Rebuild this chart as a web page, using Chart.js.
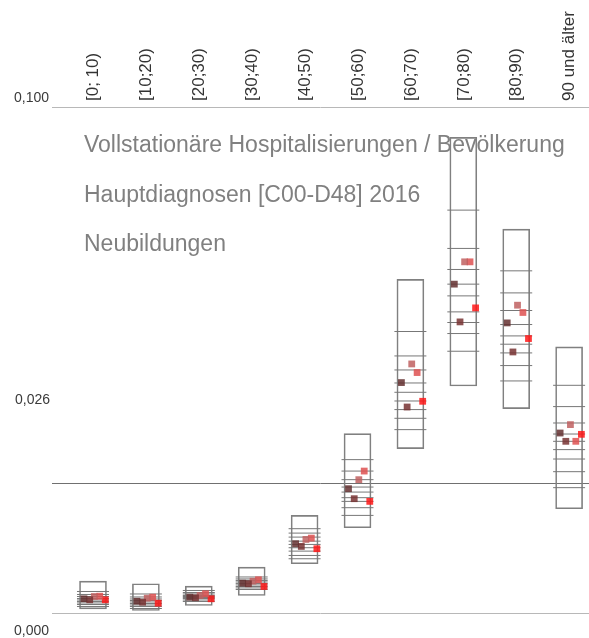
<!DOCTYPE html>
<html>
<head>
<meta charset="utf-8">
<script src="https://cdn.jsdelivr.net/npm/chart.js@4.4.1/dist/chart.umd.min.js"></script>
<style>
  body { margin: 0; background: #fff; }
  canvas { display: block; }
</style>
</head>
<body>
<canvas id="hospChart" width="589" height="638"></canvas>
<script>
// Altersgruppen
const categories = ['[0; 10)', '[10;20)', '[20;30)', '[30;40)', '[40;50)', '[50;60)', '[60;70)', '[70;80)', '[80;90)', '90 und älter'];

// Spannweite (Kasten) je Altersgruppe
const boxMin = [0.00083, 0.00049, 0.00148, 0.00346, 0.00973, 0.01685, 0.03248, 0.04487, 0.04040, 0.02061];
const boxMax = [0.00629, 0.00578, 0.00530, 0.00906, 0.01929, 0.03545, 0.06592, 0.09401, 0.07587, 0.05258];

// Querstriche je Altersgruppe (von oben nach unten)
const deciles = [
  [0.00425, 0.00366, 0.00326, 0.00287, 0.00257, 0.00228, 0.00198, 0.00168, 0.00129],
  [0.00376, 0.00317, 0.00277, 0.00247, 0.00218, 0.00188, 0.00158, 0.00129, 0.00089],
  [0.00445, 0.00405, 0.00376, 0.00346, 0.00326, 0.00307, 0.00287, 0.00257, 0.00228],
  [0.00712, 0.00673, 0.00643, 0.00613, 0.00584, 0.00554, 0.00524, 0.00495, 0.00465],
  [0.01666, 0.01579, 0.01500, 0.01420, 0.01355, 0.01290, 0.01223, 0.01137, 0.01072],
  [0.03031, 0.02805, 0.02635, 0.02489, 0.02390, 0.02279, 0.02206, 0.02081, 0.01929],
  [0.05563, 0.05080, 0.04803, 0.04546, 0.04362, 0.04190, 0.04020, 0.03848, 0.03624],
  [0.07962, 0.07205, 0.06789, 0.06499, 0.06267, 0.05951, 0.05741, 0.05523, 0.05173],
  [0.06762, 0.06326, 0.05978, 0.05701, 0.05476, 0.05312, 0.05140, 0.04890, 0.04586],
  [0.04500, 0.04079, 0.03755, 0.03537, 0.03393, 0.03229, 0.03043, 0.02793, 0.02477]
];

// hervorgehobene Einheiten (Quadrate)
const unit1 = [0.00281, 0.00233, 0.00313, 0.00590, 0.01369, 0.02457, 0.04554, 0.06499, 0.05733, 0.03557];
const unit2 = [0.00261, 0.00214, 0.00301, 0.00578, 0.01316, 0.02259, 0.04071, 0.05753, 0.05159, 0.03393];
const unit3 = [0.00326, 0.00293, 0.00346, 0.00629, 0.01454, 0.02635, 0.04922, 0.06940, 0.06083, 0.03723];
const unit4 = [0.00332, 0.00313, 0.00380, 0.00657, 0.01480, 0.02805, 0.04752, 0.06940, 0.05939, 0.03393];
const unit5 = [0.00261, 0.00194, 0.00281, 0.00524, 0.01270, 0.02206, 0.04184, 0.06030, 0.05424, 0.03531];

// Gesamtwert (waagerechte Linie)
const meanRate = 0.0256;
const yTicks = [0, meanRate, 0.1];

const titleLines = ['Vollstationäre Hospitalisierungen / Bevölkerung', 'Hauptdiagnosen [C00-D48] 2016', 'Neubildungen'];

// Darstellung
const units = [unit1, unit2, unit3, unit4, unit5];
const unitColors = ['rgba(100,48,48,0.85)', 'rgba(120,51,51,0.85)', 'rgba(191,96,96,0.85)', 'rgba(222,81,81,0.85)', 'rgba(255,24,24,0.85)'];
const dodge = [-0.17, -0.062, 0.025, 0.127, 0.232];

const fmt = v => v.toFixed(3).replace('.', ',');

const unitDatasets = units.map((u, j) => ({
  type: 'scatter',
  label: 'Einheit ' + (j + 1),
  data: u.map((v, i) => ({ x: i + dodge[j], y: v })),
  pointStyle: 'rect',
  pointRadius: 4.8,
  pointHoverRadius: 4.8,
  backgroundColor: unitColors[j],
  borderWidth: 0,
  order: 0
}));

const decileData = [];
deciles.forEach((list, i) => list.forEach(v => decileData.push({ x: i, y: v })));

// Achsenbeschriftung links und Titeltext
const textPlugin = {
  id: 'texts',
  afterDatasetsDraw(chart) {
    const { ctx, scales: { y } } = chart;
    ctx.save();
    ctx.fillStyle = '#3a3a3a';
    ctx.font = '14px "Liberation Sans", Arial, sans-serif';
    ctx.textAlign = 'right';
    ctx.textBaseline = 'middle';
    ctx.fillText(fmt(0.1), 49, y.getPixelForValue(0.1) - 9);
    ctx.fillText(fmt(meanRate), 50, y.getPixelForValue(meanRate) - 83);
    ctx.fillText(fmt(0), 49, y.getPixelForValue(0) + 18);

    ctx.fillStyle = '#808080';
    ctx.font = '23px "Liberation Sans", Arial, sans-serif';
    ctx.textAlign = 'left';
    ctx.textBaseline = 'alphabetic';
    titleLines.forEach((t, k) => ctx.fillText(t, 84, 152 + k * 49.5));
    ctx.restore();
  }
};

new Chart(document.getElementById('hospChart'), {
  type: 'scatter',
  data: {
    datasets: [
      ...unitDatasets,
      {
        type: 'scatter',
        label: 'Dezile',
        data: decileData,
        pointStyle: 'line',
        pointRadius: 16,
        pointHoverRadius: 16,
        borderColor: '#777777',
        borderWidth: 1,
        order: 1
      },
      {
        type: 'bar',
        label: 'Spannweite',
        data: categories.map((c, i) => ({ x: i, y: [boxMin[i], boxMax[i]] })),
        barThickness: 27,
        backgroundColor: 'rgba(0,0,0,0)',
        borderColor: '#808080',
        borderWidth: 1,
        borderSkipped: false,
        order: 2
      }
    ]
  },
  options: {
    responsive: false,
    animation: false,
    layout: { autoPadding: false, padding: { top: 0, right: 0, bottom: 25, left: 0 } },
    plugins: {
      legend: { display: false },
      tooltip: { enabled: false }
    },
    scales: {
      x: {
        type: 'linear',
        position: 'top',
        offset: false,
        min: -0.775,
        max: 9.376,
        afterBuildTicks: scale => { scale.ticks = categories.map((c, i) => ({ value: i })); },
        afterFit: scale => {
          scale.height = 107;
          scale.paddingLeft = 0;
          scale.paddingRight = 0;
        },
        grid: { display: false, drawTicks: false, offset: false },
        border: { display: false },
        ticks: {
          autoSkip: false,
          minRotation: 90,
          maxRotation: 90,
          padding: 6,
          labelOffset: 21,
          color: '#333333',
          font: { family: '"Liberation Sans", Arial, sans-serif', size: 17 },
          callback: v => categories[v]
        }
      },
      y: {
        type: 'linear',
        min: 0,
        max: 0.1,
        afterBuildTicks: scale => { scale.ticks = yTicks.map(v => ({ value: v })); },
        afterFit: scale => {
          scale.width = 52;
          scale.paddingTop = 0;
          scale.paddingBottom = 0;
        },
        border: { display: false },
        grid: {
          drawTicks: false,
          color: c => c.tick && c.tick.value === meanRate ? '#707070' : '#b8b8b8'
        },
        ticks: { display: false }
      }
    }
  },
  plugins: [textPlugin]
});
</script>
</body>
</html>
